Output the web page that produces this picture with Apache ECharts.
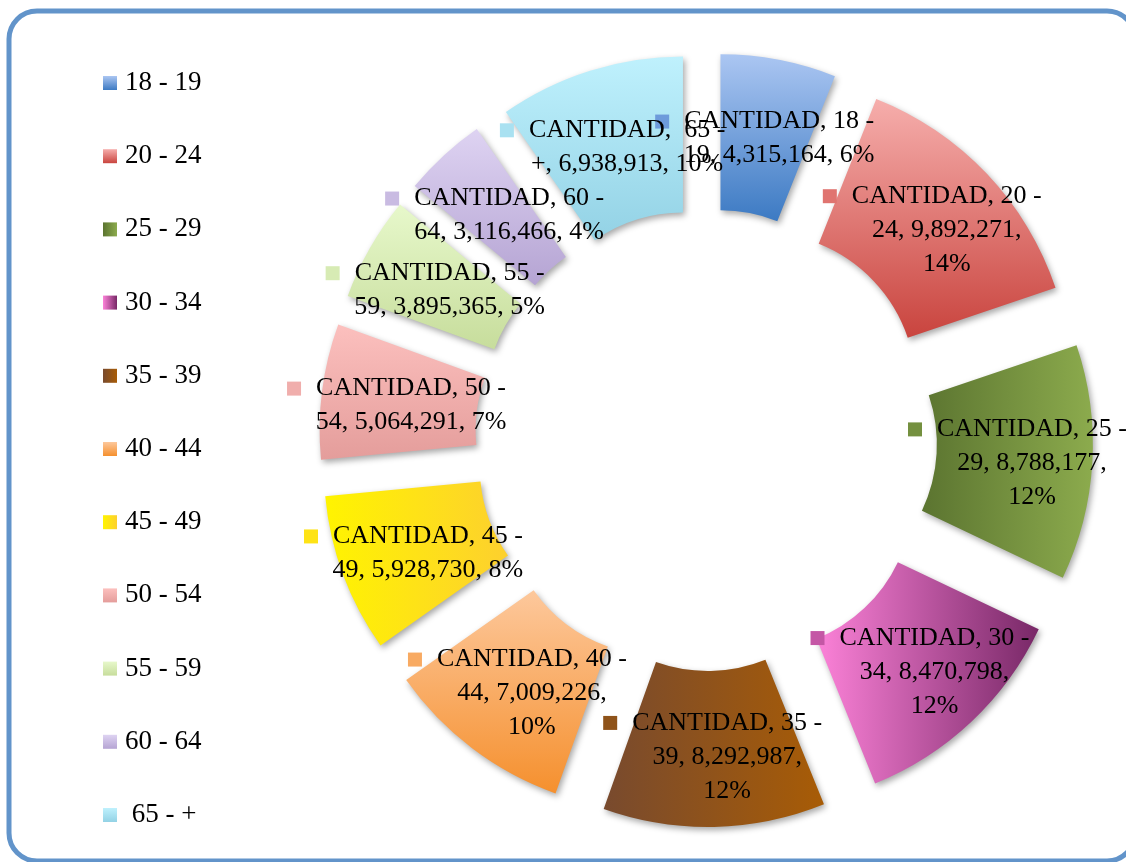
<!DOCTYPE html>
<html>
<head>
<meta charset="utf-8">
<title>CANTIDAD por edad</title>
<script src="https://cdn.jsdelivr.net/npm/echarts@6/dist/echarts.min.js"></script>
<style>
  html, body { margin: 0; padding: 0; background: #fff; }
  #myChart { width: 1126px; height: 862px; }
</style>
</head>
<body>
<div id="myChart"></div>
<script>
// datos del grafico
var seriesName = 'CANTIDAD'
var categories = ['18 - 19', '20 - 24', '25 - 29', '30 - 34', '35 - 39', '40 - 44',
  '45 - 49', '50 - 54', '55 - 59', '60 - 64', ' 65 - +']
var cantidad = [4315164, 9892271, 8788177, 8470798, 8292987, 7009226,
  5928730, 5064291, 3895365, 3116466, 6938913]

// etiquetas que Excel parte en tres lineas
var threeLines = ['20 - 24', '25 - 29', '30 - 34', '35 - 39', '40 - 44']

// colores: [claro, oscuro, direccion del degradado]
var palette = [
  ['#abc6f2', '#3c7ac3', 'v'],
  ['#f6aeac', '#c9443e', 'v'],
  ['#5b7430', '#8cab4d', 'h'],
  ['#fc82d8', '#782867', 'h'],
  ['#784a2e', '#a85c06', 'h'],
  ['#fdc89c', '#f5902e', 'v'],
  ['#fff400', '#fdd02e', 'h'],
  ['#fcc0be', '#e49d9b', 'v'],
  ['#e7f8cb', '#c7dd9c', 'v'],
  ['#ded3f2', '#b5a4d3', 'v'],
  ['#bff1fd', '#93d2e5', 'v']
]
var keyColors = ['#6d9bdb', '#e07470', '#74903f', '#c457a5', '#8f531a', '#f8aa62',
  '#fee316', '#f0aeac', '#d7ebb4', '#c9bbe2', '#a9e1f1']

var font = '"Liberation Serif", "DejaVu Serif", serif'

function grad (c) {
  if (c[2] === 'h') {
    return new echarts.graphic.LinearGradient(0, 0, 1, 0, [
      { offset: 0, color: c[0] }, { offset: 1, color: c[1] }])
  }
  return new echarts.graphic.LinearGradient(0, 0, 0, 1, [
    { offset: 0, color: c[0] }, { offset: 1, color: c[1] }])
}

var rich = {
  t: { fontFamily: font, fontSize: 26, lineHeight: 34, color: '#000' },
  g: { width: 15, height: 14 },
  s: { width: 29, height: 14 }
}
categories.forEach(function (c, i) {
  rich['m' + i] = { width: 14, height: 14, backgroundColor: keyColors[i] }
})

var data = categories.map(function (name, i) {
  return {
    name: name,
    value: cantidad[i],
    selected: true,
    itemStyle: { color: grad(palette[i]) }
  }
})

var option = {
  backgroundColor: '#fff',
  animation: false,
  graphic: [{
    type: 'rect',
    shape: { x: 9, y: 11, width: 1126, height: 850, r: 28 },
    style: { fill: 'none', stroke: '#6294ca', lineWidth: 5 },
    z: 10
  }],
  legend: {
    orient: 'vertical',
    left: 103,
    top: 68,
    padding: 0,
    icon: 'rect',
    itemWidth: 14,
    itemHeight: 14,
    itemGap: 43.2,
    selectedMode: false,
    itemStyle: { shadowBlur: 0, shadowOffsetX: 0, shadowOffsetY: 0 },
    textStyle: { fontFamily: font, fontSize: 27, lineHeight: 30, color: '#000', padding: [0, 0, 0, 3] },
    data: categories
  },
  series: [{
    name: seriesName,
    type: 'pie',
    center: [706, 440],
    radius: [154, 310],
    startAngle: 90,
    clockwise: true,
    percentPrecision: 0,
    selectedMode: 'multiple',
    selectedOffset: 77,
    avoidLabelOverlap: false,
    labelLayout: { hideOverlap: false },
    emphasis: { disabled: true },
    itemStyle: {
      shadowBlur: 6,
      shadowOffsetX: 2,
      shadowOffsetY: 3,
      shadowColor: 'rgba(0,0,0,0.35)'
    },
    labelLine: { show: false },
    label: {
      show: true,
      position: 'inside',
      rotate: 0,
      padding: [10, 0, 0, 0],
      rich: rich,
      formatter: function (p) {
        var parts = p.name.split(' - ')
        var first = p.seriesName + ', ' + parts[0] + ' -'
        var rest = parts[1] + ', ' + echarts.format.addCommas(p.value) + ','
        var pct = p.percent + '%'
        var txt = '{m' + p.dataIndex + '|}{g|}{t|' + first + '}\n'
        if (threeLines.indexOf(p.name) >= 0) {
          txt += '{s|}{t|' + rest + '}\n{s|}{t|' + pct + '}'
        } else {
          txt += '{s|}{t|' + rest + ' ' + pct + '}'
        }
        return txt
      }
    },
    data: data
  }]
}

var myChart = echarts.init(document.getElementById('myChart'))
myChart.setOption(option)
window.onresize = myChart.resize
</script>
</body>
</html>
